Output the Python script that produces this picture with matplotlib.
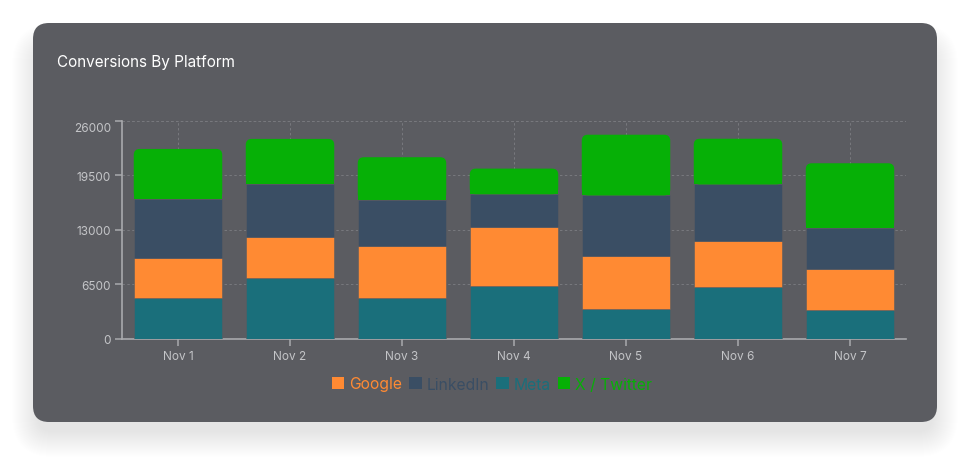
import numpy as np
import matplotlib
matplotlib.use('Agg')
import matplotlib.pyplot as plt
from matplotlib.patches import FancyBboxPatch, Patch, Rectangle
from matplotlib.transforms import ScaledTranslation

plt.rcParams.update({
    'font.family': ['Inter', 'DejaVu Sans'],
    'font.size': 8.5,
})

days = ['Nov 1', 'Nov 2', 'Nov 3', 'Nov 4', 'Nov 5', 'Nov 6', 'Nov 7']
# stacked bottom -> top: Meta, Google, LinkedIn, X / Twitter
meta = [4860, 7220, 4860, 6260, 3570, 6150, 3410]
google = [4720, 4870, 6230, 7070, 6270, 5510, 4880]
linkedin = [7130, 6380, 5510, 3910, 7260, 6750, 4960]
twitter = [5950, 5390, 5070, 3070, 7260, 5470, 7700]
y_ticks = [0, 6500, 13000, 19500, 26000]

colors = {
    'Google': '#ff8a33',
    'LinkedIn': '#3a4e64',
    'Meta': '#1a6f7b',
    'X / Twitter': '#06b006',
}
card_color = '#5b5c61'

W, H = 970, 464
fig = plt.figure(figsize=(W / 100, H / 100), dpi=100)
fig.patch.set_facecolor('white')

# soft card shadow
cx, cy, cw, ch = 33, 24, 904, 399
for i in range(26):
    g = i * 1.0
    sh = FancyBboxPatch(((cx + 4 - g) / W, (H - cy - ch - 10 - g) / H),
                        (cw - 8 + 2 * g) / W, (ch + 2 * g - 16) / H,
                        boxstyle=f'round,pad=0,rounding_size={(16 + g) / W}',
                        mutation_aspect=W / H,
                        transform=fig.transFigure, facecolor='black',
                        edgecolor='none', alpha=0.0055, zorder=0)
    fig.patches.append(sh)
card = FancyBboxPatch((cx / W, (H - cy - ch) / H), cw / W, ch / H,
                      boxstyle=f'round,pad=0,rounding_size={16 / W}',
                      mutation_aspect=W / H,
                      transform=fig.transFigure, facecolor=card_color,
                      edgecolor='none', zorder=1)
fig.patches.append(card)

fig.text(57 / W, 1 - 63 / H, 'Conversions By Platform', color='white',
         fontsize=11, va='center', ha='left', zorder=3)

ax = fig.add_axes([122 / W, 124.5 / H, 784 / W, 217.5 / H])
ax.set_facecolor('none')
ax.set_zorder(2)

x = np.arange(len(days))
width = 0.79
bottom = np.zeros(len(days))
for name, vals in [('Meta', meta), ('Google', google), ('LinkedIn', linkedin)]:
    ax.bar(x, vals, width, bottom=bottom, color=colors[name],
           edgecolor=card_color, linewidth=0.4, zorder=3)
    bottom += np.array(vals)

# top segment with rounded top corners
px_x = 1 / 112.0
px_y = 26000 / 217.5
for xi, b, v in zip(x, bottom, twitter):
    r = 6 * px_x
    p = FancyBboxPatch((xi - width / 2, b), width, v,
                       boxstyle=f'round,pad=0,rounding_size={r}',
                       mutation_aspect=px_y / px_x,
                       facecolor=colors['X / Twitter'], edgecolor='none', zorder=3)
    ax.add_patch(p)
    ax.add_patch(Rectangle((xi - width / 2, b), width, v / 2,
                           facecolor=colors['X / Twitter'], edgecolor='none', zorder=3))

ax.set_xlim(-0.5, len(days) - 0.5)
ax.set_ylim(0, 26000)
ax.set_yticks(y_ticks)
ax.set_yticklabels([str(t) for t in y_ticks])
ax.set_xticks(x)
ax.set_xticklabels(days)

grid_c = '#78797e'
dash = (0, (2.5, 2.5))
ax.grid(True, which='major', color=grid_c, linestyle=dash, linewidth=0.7, zorder=0)
ax.axvline(len(days) - 0.5, color=grid_c, linestyle=dash, linewidth=0.7, zorder=0)
ax.axhline(26000, color=grid_c, linestyle=dash, linewidth=0.7, zorder=0)

for s in ['top', 'right']:
    ax.spines[s].set_visible(False)
for s in ['left', 'bottom']:
    ax.spines[s].set_color('#a9aaad')
    ax.spines[s].set_linewidth(1.2)
ax.tick_params(colors='#a9aaad', labelcolor='#c4c5c8', length=5, width=1.1, pad=3,
               labelsize=8.5)
# top label sits a bit below its tick
top_lab = ax.get_yticklabels()[-1]
top_lab.set_transform(top_lab.get_transform() + ScaledTranslation(0, -6 / 100, fig.dpi_scale_trans))

names = ['Google', 'LinkedIn', 'Meta', 'X / Twitter']
handles = [Patch(facecolor=colors[n], edgecolor='none', label=n) for n in names]
leg = fig.legend(handles=handles, loc='center', bbox_to_anchor=(492 / W, 1 - 385 / H),
                 ncol=4, frameon=False, fontsize=11.3, handlelength=0.8,
                 handleheight=0.8, handletextpad=0.3, columnspacing=0.45,
                 labelcolor=[colors[n] for n in names])
leg.set_zorder(3)

fig.savefig('out.png', dpi=100, facecolor='white')
